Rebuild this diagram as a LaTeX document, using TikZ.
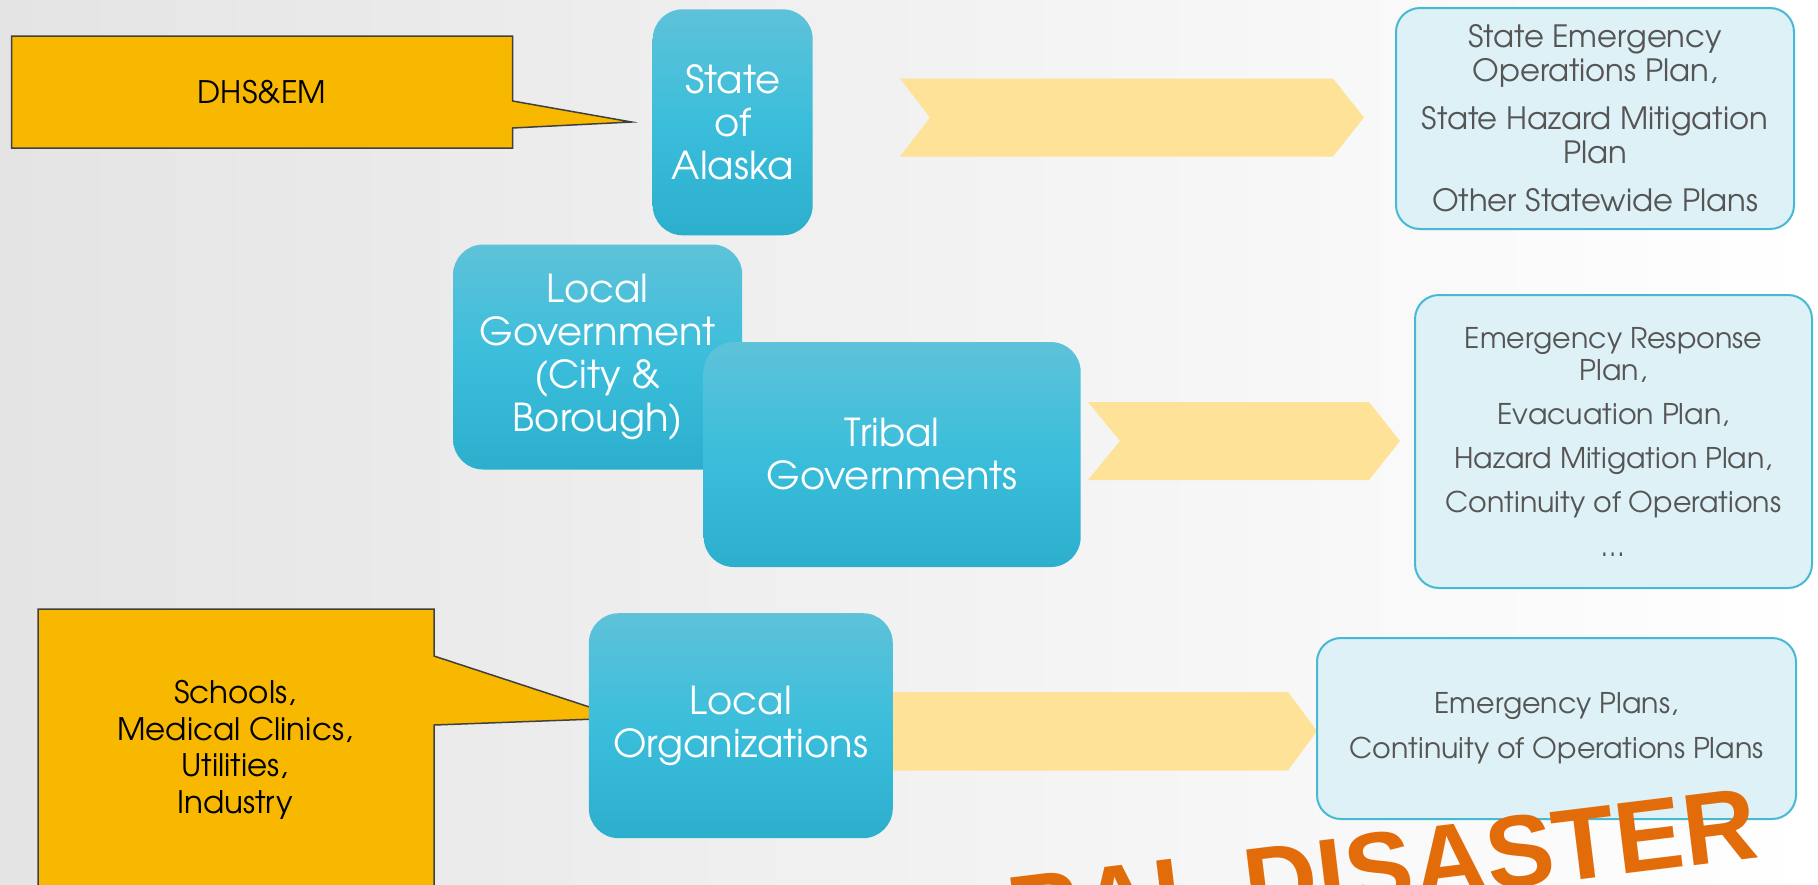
\documentclass[tikz,border=0pt]{standalone}
\usepackage{fontspec}
\setmainfont{Liberation Sans}
\newfontfamily\gf{texgyreadventor-regular.otf}
\definecolor{gold}{HTML}{F9B800}
\definecolor{calloutline}{HTML}{404040}
\definecolor{btop}{HTML}{5EC2D9}
\definecolor{bmid}{HTML}{3BBEDB}
\definecolor{bbot}{HTML}{2BAFCC}
\definecolor{chev}{HTML}{FEE297}
\definecolor{planfill}{HTML}{DDF1F6}
\definecolor{planline}{HTML}{46BAD3}
\definecolor{plantext}{HTML}{555555}
\definecolor{wordart}{HTML}{E36C0A}
\definecolor{bgleft}{HTML}{E4E4E4}
\begin{document}
\begin{tikzpicture}[x=1pt,y=-1pt,
  bluebox/.style={rounded corners=30pt, top color=btop, bottom color=bbot, middle color=bmid,
    text=white, font=\gf\fontsize{38.5}{43}\selectfont, align=center, inner sep=0pt},
  planbox/.style={rounded corners=24pt, fill=planfill, draw=planline, line width=2pt,
    text=plantext, align=center, inner sep=0pt, font=\gf\fontsize{28.5}{32}\selectfont},
  callout/.style={fill=gold, draw=calloutline, line width=1.5pt},
  callouttext/.style={font=\gf\fontsize{31}{36.5}\selectfont, align=center, text=black, inner sep=0pt},
  chevron/.style={fill=chev}]
\useasboundingbox (0,0) rectangle (1818,884);
\clip (0,0) rectangle (1818,884);
\shade[left color=bgleft, right color=white] (0,0) rectangle (1818,884);

% callouts
\draw[callout] (11.5,36) -- (512.6,36) -- (512.6,101) -- (631.5,122) -- (512.6,128) -- (512.6,148) -- (11.5,148) -- cycle;
\node[callouttext] (dhs) at (262,92) {DHS\&EM};
\draw[callout] (38,609) -- (434,609) -- (434,656) -- (623,718) -- (434,725) -- (434,900) -- (38,900) -- cycle;
\node[callouttext] (schools) at (235,750) {Schools,\\Medical Clinics,\\Utilities,\\Industry};

% chevrons
\fill[chevron] (900,78.5) -- (1333,78.5) -- (1364,117.5) -- (1333,156.5) -- (900,156.5) -- (930,117.5) -- cycle;
\fill[chevron] (1088,402) -- (1369,402) -- (1400,441) -- (1369,480) -- (1088,480) -- (1120,441) -- cycle;
\fill[chevron] (850,692) -- (1288,692) -- (1317,731) -- (1288,770.5) -- (850,770.5) -- (880,731) -- cycle;

% blue boxes
\node[bluebox, minimum width=160pt, minimum height=226pt] (state) at (732.7,122.3) {State\\of\\Alaska};
\node[bluebox, minimum width=289pt, minimum height=225pt] (localgov) at (597.7,357) {Local\\Government\\(City \&\\Borough)};
\node[bluebox, minimum width=377pt, minimum height=225pt] (tribal) at (892.2,454.5) {Tribal\\Governments};
\node[bluebox, minimum width=304pt, minimum height=225pt] (localorg) at (740.8,725.7) {Local\\Organizations};

% plan boxes
\node[planbox, minimum width=398pt, minimum height=221pt, font=\gf\fontsize{30.7}{33.5}\selectfont] (plan1) at (1595,118.5)
  {State Emergency\\Operations Plan,\\[15pt]State Hazard Mitigation\\Plan\\[15pt]Other Statewide Plans};
\node[planbox, minimum width=397pt, minimum height=293pt] (plan2) at (1613.5,441.5)
  {Emergency Response\\Plan,\\[12pt]Evacuation Plan,\\[12pt]Hazard Mitigation Plan,\\[12pt]Continuity of Operations\\[12pt]\ldots};
\node[planbox, minimum width=479pt, minimum height=181pt] (plan3) at (1556.5,728.5)
  {Emergency Plans,\\[13pt]Continuity of Operations Plans};

% word art
\node[anchor=base west, rotate=7, inner sep=0pt, text=wordart,
  font=\bfseries\fontsize{102}{102}\selectfont] (wa) at (1012,949) {RAL DISASTER};
\end{tikzpicture}
\end{document}
